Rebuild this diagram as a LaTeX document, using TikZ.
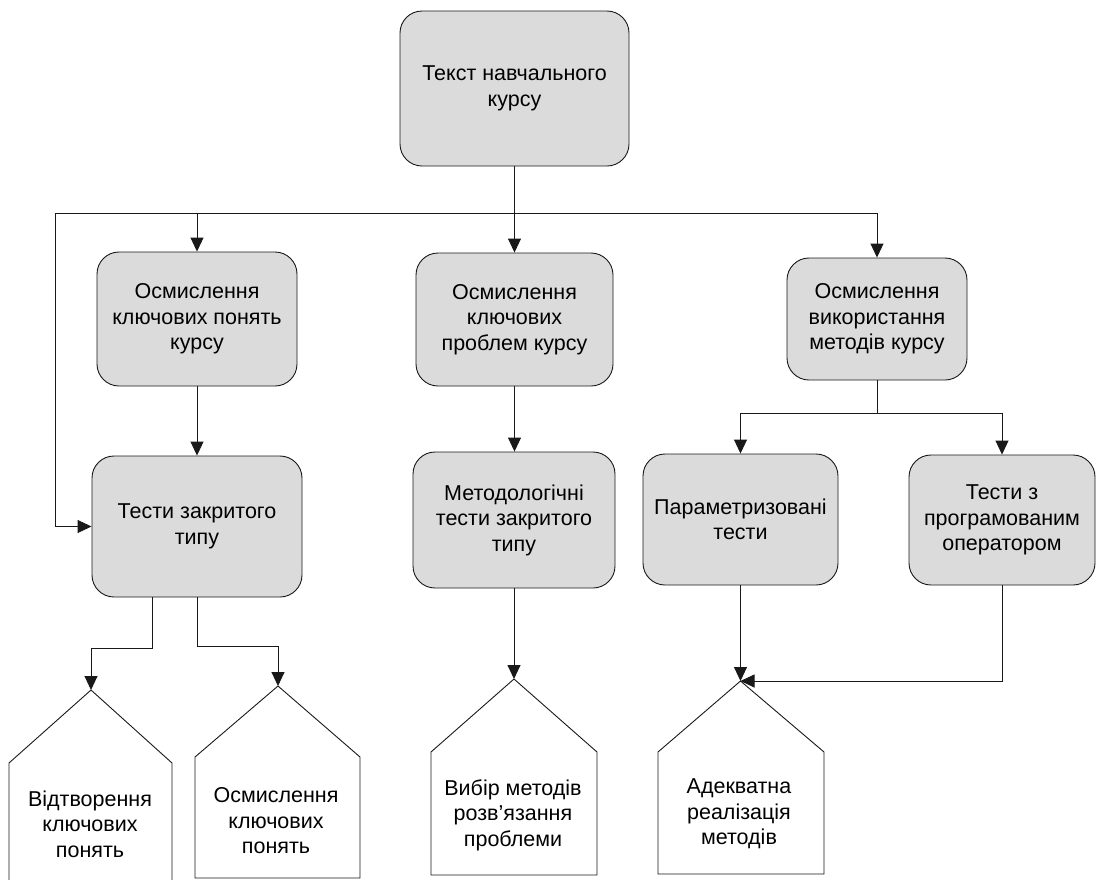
\documentclass[tikz,border=0pt]{standalone}
\usepackage{fontspec}
\setmainfont{Liberation Sans}
\usetikzlibrary{arrows.meta,calc}
\definecolor{boxgray}{RGB}{219,219,219}
\definecolor{ink}{RGB}{25,25,25}
\begin{document}
\begin{tikzpicture}[x=1pt,y=-1pt,
  every node/.style={font=\fontsize{21.5}{25.5}\selectfont, align=center, inner sep=0pt, text=black},
  rbox/.style={draw=ink, fill=boxgray, line width=0.9pt, rounded corners=22pt},
  house/.style={draw=ink, line width=0.9pt, fill=white},
  wire/.style={draw=ink, line width=0.9pt},
  link/.style={wire, -{Triangle[width=13pt,length=14pt]}}]
\useasboundingbox (0,0) rectangle (1096,879);

% rounded process boxes
\node[rbox, minimum width=229pt, minimum height=155pt] (top) at (514.5,88.5) {Текст навчального\\курсу};
\node[rbox, minimum width=200pt, minimum height=134pt] (A) at (197,319) {Осмислення\\ключових понять\\курсу};
\node[rbox, minimum width=197pt, minimum height=133pt] (B) at (514.5,319.5) {Осмислення\\ключових\\проблем курсу};
\node[rbox, minimum width=180pt, minimum height=122pt] (C) at (877,319) {Осмислення\\використання\\методів курсу};
\node[rbox, minimum width=210pt, minimum height=141pt] (D) at (197,526.5) {Тести закритого\\типу};
\node[rbox, minimum width=202pt, minimum height=136pt] (E) at (514,520) {Методологічні\\тести закритого\\типу};
\node[rbox, minimum width=195pt, minimum height=131pt] (F) at (740.5,519.5) {Параметризовані\\тести};
\node[rbox, minimum width=186pt, minimum height=130pt] (G) at (1002,520) {Тести з\\програмованим\\оператором};

% house-shaped result blocks
\draw[house] (91,690) -- (172,763) -- (172,882) -- (9,882) -- (9,763) -- cycle;
\coordinate (h1) at (91,690);
\node (h1t) at (90,824) {Відтворення\\ключових\\понять};

\draw[house] (278,686) -- (360,757) -- (360,878) -- (195,878) -- (195,757) -- cycle;
\coordinate (h2) at (278,686);
\node (h2t) at (276,821) {Осмислення\\ключових\\понять};

\draw[house] (514,679) -- (597,752) -- (597,875) -- (431,875) -- (431,752) -- cycle;
\coordinate (h3) at (514,679);
\node (h3t) at (513,815) {Вибір методів\\розв’язання\\проблеми};

\draw[house] (740.5,681) -- (824,752) -- (824,874) -- (658,874) -- (658,752) -- cycle;
\coordinate (h4) at (740.5,681);
\node (h4t) at (739,814) {Адекватна\\реалізація\\методів};

% connectors
\coordinate (hub) at (514,213);
\coordinate (lft) at (55,213);
\coordinate (split) at (877,413);
\coordinate (d1) at (152,597);

\draw[link] (top.south) -- (B.north);
\draw[link] (hub) -| (A.north);
\draw[link] (hub) -| (C.north);
\draw[link] (hub) -- (lft) |- (D.west);
\draw[link] (A.south) -- (D.north);
\draw[link] (B.south) -- (B.south |- E.north);
\draw[wire] (C.south) -- (split);
\draw[link] (split) -| (F.north);
\draw[link] (split) -| (G.north);
\draw[link] (d1) -- ++(0,51) -| (h1);
\draw[link] (D.south) -- ++(0,49) -| (h2);
\draw[link] (E.south) -- (h3);
\draw[link] (F.south) -- (h4);
\draw[link] (G.south) |- (h4);
\end{tikzpicture}
\end{document}
